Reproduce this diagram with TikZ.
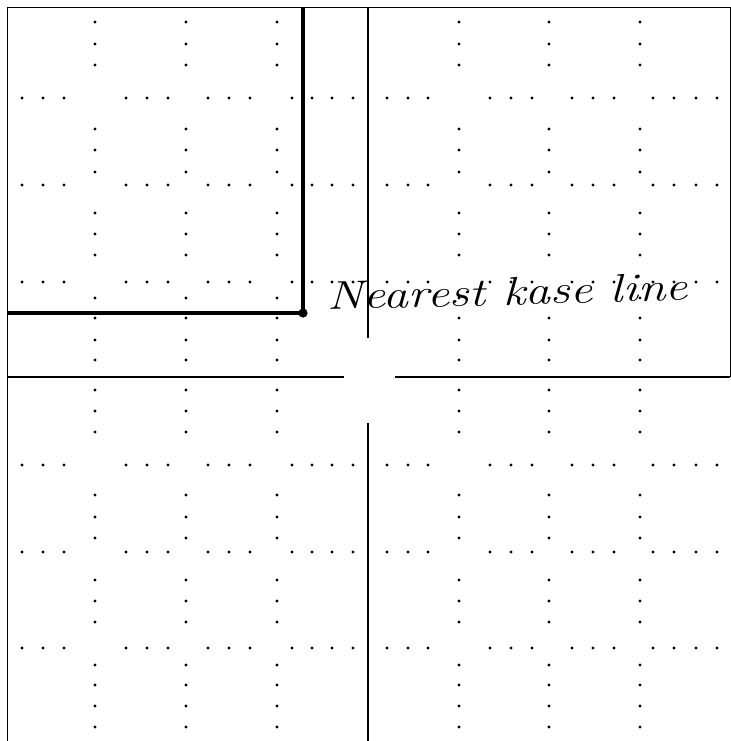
\documentclass[tikz,border=0pt]{standalone}
\usepackage{tikz}
\usetikzlibrary{positioning,calc}

\begin{document}
\begin{tikzpicture}[x=0.5pt,y=-0.5pt,
borde/.style={line width=0.5pt},
eje/.style={line width=0.65pt},
grueso/.style={line width=1.8pt},
punto/.style={fill=black},
nota/.style={font=\fontsize{20}{24}\selectfont\itshape,inner sep=0pt,anchor=base west,rotate=1.6,xscale=1.25}
]
\useasboundingbox (0,0) rectangle (731,741);

% marco
\draw[borde] (7,741) -- (7,7) -- (730,7) -- (730,377);

% ejes centrales
\draw[eje] (368,7) -- (368,338);
\draw[eje] (368,423) -- (368,741);
\draw[eje] (7,377) -- (344,377);
\draw[eje] (395,377) -- (730,377);

% puntos de la rejilla
\foreach \x in {95,186,277,459,549,640}
  \foreach \y in {22,44,65,129,150,172,213,234,255,298,318,340,360,390,411,432,495,517,538,580,601,622,665,685,706,727}
    \fill[punto] (\x,\y) circle[radius=0.8pt];
\foreach \y in {98,185,282,465,552,648}
  \foreach \x in {22,43,64,126,147,168,208,229,250,292,312,332,353,387,408,428,490,511,532,572,593,614,653,674,696,717}
    \fill[punto] (\x,\y) circle[radius=0.8pt];

% linea base mas cercana
\coordinate (esquina) at (303,313);
\draw[grueso] (303,7) -- (esquina) -- (7,313);
\fill (esquina) circle[radius=2.3pt];
\node[nota] (rotulo) at (327,310) {Nearest kase line};
\end{tikzpicture}
\end{document}
